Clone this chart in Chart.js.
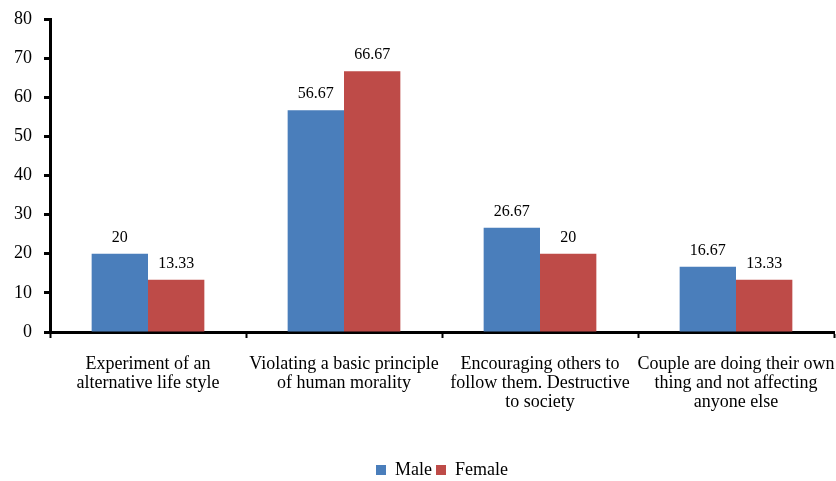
<!DOCTYPE html>
<html>
<head>
<meta charset="utf-8">
<script src="https://cdn.jsdelivr.net/npm/chart.js@4/dist/chart.umd.min.js"></script>
<style>
  html, body { margin: 0; padding: 0; background: #ffffff; }
  #wrap { width: 836px; height: 481px; position: relative; }
</style>
</head>
<body>
<div id="wrap"><canvas id="c" width="836" height="481"></canvas></div>
<script>
const categories = [
  ["Experiment of an", "alternative life style"],
  ["Violating a basic principle", "of human morality"],
  ["Encouraging others to", "follow them. Destructive", "to society"],
  ["Couple are doing their own", "thing and not affecting", "anyone else"]
];
const maleValues = [20, 56.67, 26.67, 16.67];
const femaleValues = [13.33, 66.67, 20, 13.33];
const yTicks = [0, 10, 20, 30, 40, 50, 60, 70, 80];

const SERIF = "'Liberation Serif', 'Times New Roman', serif";

// Writes each bar's value just above it
const valueLabels = {
  id: 'valueLabels',
  afterDatasetsDraw(chart) {
    const ctx = chart.ctx;
    ctx.save();
    ctx.font = "16px " + SERIF;
    ctx.fillStyle = '#000';
    ctx.textAlign = 'center';
    ctx.textBaseline = 'bottom';
    chart.data.datasets.forEach((ds, i) => {
      chart.getDatasetMeta(i).data.forEach((bar, j) => {
        ctx.fillText(String(ds.data[j]), bar.x, bar.y - 8);
      });
    });
    ctx.restore();
  }
};

new Chart(document.getElementById('c'), {
  type: 'bar',
  data: {
    labels: categories,
    datasets: [
      { label: 'Male', data: maleValues, backgroundColor: '#4A7EBB' },
      { label: 'Female', data: femaleValues, backgroundColor: '#BE4B48' }
    ]
  },
  options: {
    responsive: false,
    animation: false,
    devicePixelRatio: 1,
    layout: { padding: { top: 19, right: 2, left: 0, bottom: -8 } },
    datasets: { bar: { categoryPercentage: 0.575, barPercentage: 1.0 } },
    plugins: {
      legend: {
        position: 'bottom',
        fullSize: false,
        labels: {
          font: { family: SERIF, size: 18 },
          color: '#000',
          boxWidth: 10,
          boxHeight: 10,
          padding: 4
        }
      },
      tooltip: { enabled: false }
    },
    scales: {
      x: {
        grid: {
          drawOnChartArea: false,
          drawTicks: true,
          tickLength: 6,
          tickWidth: 2,
          tickColor: '#000',
          offset: true
        },
        border: { color: '#000', width: 3 },
        ticks: {
          color: '#000',
          font: { family: SERIF, size: 18, lineHeight: 1.06 },
          maxRotation: 0,
          autoSkip: false,
          padding: 17
        },
        afterFit(scale) {
          scale.height = 125;
          scale.paddingLeft = 0;
          scale.paddingRight = 0;
        }
      },
      y: {
        min: 0,
        max: 80,
        afterBuildTicks(scale) { scale.ticks = yTicks.map(v => ({ value: v })); },
        grid: {
          drawOnChartArea: false,
          drawTicks: true,
          tickLength: 6,
          tickWidth: 3,
          tickColor: '#000'
        },
        border: { color: '#000', width: 3 },
        ticks: {
          color: '#000',
          font: { family: SERIF, size: 18 },
          padding: 12
        },
        afterFit(scale) {
          scale.width = 50;
          scale.paddingTop = 0;
          scale.paddingBottom = 0;
        }
      }
    }
  },
  plugins: [valueLabels]
});
</script>
</body>
</html>
